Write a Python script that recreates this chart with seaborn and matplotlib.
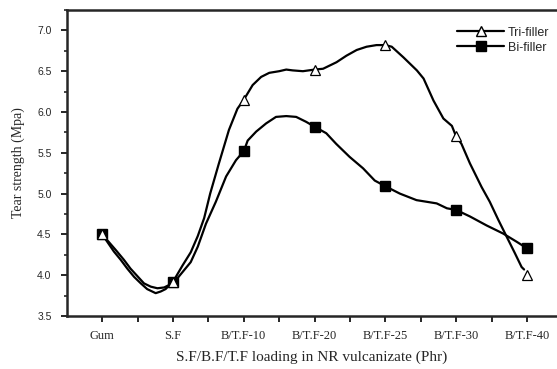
import matplotlib
matplotlib.use("Agg")
import matplotlib.pyplot as plt
from matplotlib.lines import Line2D
from matplotlib.ticker import MultipleLocator
import seaborn as sns
import pandas as pd

# ---- data ----
categories = ["Gum", "S.F", "B/T.F-10", "B/T.F-20", "B/T.F-25", "B/T.F-30", "B/T.F-40"]
tri_filler = [4.50, 3.92, 6.15, 6.52, 6.82, 5.70, 4.00]
bi_filler = [4.50, 3.92, 5.52, 5.82, 5.09, 4.80, 4.33]

# smoothed curve readings (x in category-slot units, y in MPa)
tri_curve_x = [1.0, 1.33, 1.52, 1.71, 1.90, 2.09, 2.27, 2.51, 2.65, 2.79, 3.0, 3.27, 3.50,
               3.70, 3.88, 4.05, 4.29, 4.58, 4.82, 5.0, 5.25, 5.49, 5.72, 6.0, 6.20, 6.38,
               6.67, 7.0, 7.24, 7.62, 7.90, 8.19, 8.47, 8.75, 9.0, 9.18, 9.51, 9.89, 10.08,
               10.36, 10.64, 10.88, 11.0, 11.15, 11.39, 11.72, 11.95, 12.19, 12.43, 12.66,
               12.85, 12.92]
tri_curve_y = [4.50, 4.29, 4.19, 4.08, 3.98, 3.90, 3.83, 3.78, 3.80, 3.83, 3.92, 4.12, 4.28,
               4.48, 4.70, 5.00, 5.36, 5.78, 6.04, 6.15, 6.33, 6.43, 6.48, 6.50, 6.52, 6.51,
               6.50, 6.52, 6.53, 6.61, 6.69, 6.76, 6.80, 6.82, 6.82, 6.80, 6.67, 6.51, 6.41,
               6.14, 5.92, 5.83, 5.70, 5.61, 5.37, 5.08, 4.90, 4.68, 4.47, 4.27, 4.10, 4.07]
bi_curve_x = [1.0, 1.38, 1.61, 1.80, 1.99, 2.18, 2.37, 2.56, 2.75, 2.89, 3.0, 3.12, 3.31,
              3.50, 3.70, 3.93, 4.21, 4.50, 4.78, 5.0, 5.11, 5.35, 5.63, 5.91, 6.20, 6.48,
              6.76, 7.0, 7.33, 7.61, 7.99, 8.37, 8.70, 9.0, 9.41, 9.88, 10.45, 10.74, 11.0,
              11.39, 11.86, 12.33, 12.71, 13.0]
bi_curve_y = [4.50, 4.31, 4.19, 4.08, 3.99, 3.90, 3.86, 3.84, 3.85, 3.88, 3.92, 3.96, 4.06,
              4.16, 4.35, 4.63, 4.90, 5.21, 5.41, 5.52, 5.65, 5.76, 5.86, 5.94, 5.95, 5.94,
              5.88, 5.82, 5.74, 5.61, 5.45, 5.31, 5.16, 5.09, 5.00, 4.92, 4.88, 4.82, 4.80,
              4.72, 4.61, 4.51, 4.41, 4.33]

y_ticks = [3.5, 4.0, 4.5, 5.0, 5.5, 6.0, 6.5, 7.0]

# ---- layout ----
positions = [1, 3, 5, 7, 9, 11, 13]

sns.set_theme(style="ticks")
plt.rcParams["font.family"] = ["Liberation Sans", "DejaVu Sans"]

fig = plt.figure(figsize=(5.57, 3.69), dpi=100)
ax = fig.add_axes([0.120, 0.1436, 0.880, 0.8293])

tri_curve = pd.DataFrame({"x": tri_curve_x, "y": tri_curve_y})
bi_curve = pd.DataFrame({"x": bi_curve_x, "y": bi_curve_y})
sns.lineplot(data=tri_curve, x="x", y="y", sort=False, estimator=None, color="black",
             linewidth=1.6, ax=ax)
sns.lineplot(data=bi_curve, x="x", y="y", sort=False, estimator=None, color="black",
             linewidth=1.6, ax=ax)

ax.plot(positions, bi_filler, linestyle="none", marker="s", markersize=6.5,
        markerfacecolor="black", markeredgecolor="black", zorder=5)
ax.plot(positions, tri_filler, linestyle="none", marker="^", markersize=6.5,
        markerfacecolor="white", markeredgecolor="black", markeredgewidth=0.9, zorder=6)

ax.set_xlim(0, 13.85)
ax.set_ylim(3.5, 7.25)

ax.set_xticks(range(1, 14))
labels = [""] * 13
for p, c in zip(positions, categories):
    labels[p - 1] = c
ax.set_xticklabels(labels, fontfamily="Liberation Serif", fontsize=9)
ax.set_yticks(y_ticks)
ax.set_yticklabels([f"{v:.1f}" for v in y_ticks], fontsize=7.5)
ax.yaxis.set_minor_locator(MultipleLocator(0.25))

ax.tick_params(axis="both", which="major", direction="out", length=4, width=1.4)
ax.tick_params(axis="y", which="minor", direction="out", length=2.5, width=1.2)
ax.tick_params(axis="y", pad=7)
ax.tick_params(axis="x", pad=6)

for s in ["left", "bottom", "top"]:
    ax.spines[s].set_linewidth(1.8)
    ax.spines[s].set_visible(True)
ax.spines["right"].set_visible(False)

ax.set_xlabel("S.F/B.F/T.F loading in NR vulcanizate (Phr)", fontfamily="Liberation Serif",
              fontsize=11, labelpad=6)
ax.set_ylabel("Tear strength (Mpa)", fontfamily="Liberation Serif", fontsize=10, labelpad=9)

handles = [
    Line2D([], [], color="black", linewidth=1.6, marker="^", markersize=6.5,
           markerfacecolor="white", markeredgecolor="black"),
    Line2D([], [], color="black", linewidth=1.6, marker="s", markersize=6.5,
           markerfacecolor="black", markeredgecolor="black"),
]
ax.legend(handles, ["Tri-filler", "Bi-filler"], loc="upper right", frameon=False,
          fontsize=9, handlelength=3.8, handletextpad=0.3, labelspacing=0.25,
          bbox_to_anchor=(1.0, 0.97), borderaxespad=0.2)

fig.savefig("out.png", dpi=100)
